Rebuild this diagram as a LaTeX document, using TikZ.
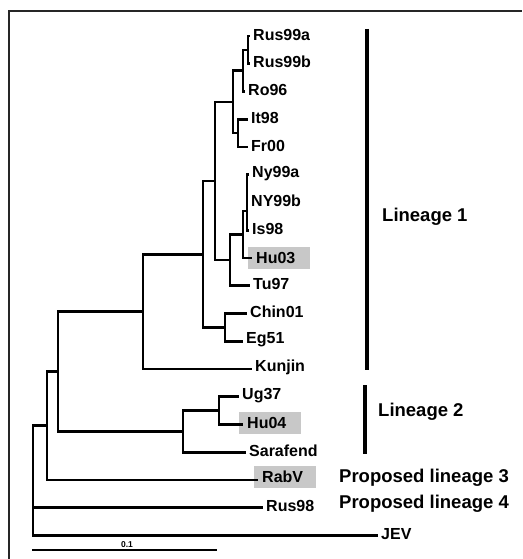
\documentclass[tikz,border=0pt]{standalone}
\usepackage{fontspec}
\setmainfont{Liberation Sans}
\begin{document}
\begin{tikzpicture}[x=1pt,y=-1pt,
  br/.style={line width=2.7pt,line join=miter},
  frame/.style={line width=2.2pt,black!85},
  lbar/.style={line width=4.5pt},
  leaf/.style={anchor=west,inner sep=0pt,xshift=3pt,yshift=1.5pt,font=\fontsize{16}{18}\selectfont\bfseries},
  boxed/.style={anchor=west,inner xsep=8pt,inner ysep=0pt,text width=46pt,minimum height=22pt,fill=boxgray,font=\fontsize{16}{18}\selectfont\bfseries},
  lin/.style={anchor=west,inner sep=0pt,font=\fontsize{18.5}{20}\selectfont\bfseries}]
\definecolor{boxgray}{RGB}{200,200,200}
\useasboundingbox (0,0) rectangle (522,559);
\draw[frame] (9,559) -- (9,11) -- (522,11);
% leaf tips
\coordinate (tRus99a) at (250,36);
\coordinate (tRus99b) at (250,63.75);
\coordinate (tRo96) at (245,91.5);
\coordinate (tIt98) at (248,119.25);
\coordinate (tFr00) at (248,147);
\coordinate (tNy99a) at (249,174.75);
\coordinate (tNY99b) at (248,202.5);
\coordinate (tIs98) at (249,230.25);
\coordinate (tHu03) at (252,258);
\coordinate (tTu97) at (250,285.75);
\coordinate (tChin01) at (247,313.5);
\coordinate (tEg51) at (243,341.25);
\coordinate (tKunjin) at (252,369);
\coordinate (tUg37) at (239,396.75);
\coordinate (tHu04) at (243,424.5);
\coordinate (tSarafend) at (246,452.25);
\coordinate (tRabV) at (258,480);
\coordinate (tRus98) at (263,507.75);
\coordinate (tJEV) at (378,535.5);
% boxed labels first
\node[boxed] (Hu03) at (248,258) {Hu03};
\node[boxed] (Hu04) at (239,423) {Hu04};
\node[boxed] (RabV) at (254,477) {RabV};
% labels
\node[leaf] (Rus99a) at (tRus99a) {Rus99a};
\node[leaf] (Rus99b) at (tRus99b) {Rus99b};
\node[leaf] (Ro96) at (tRo96) {Ro96};
\node[leaf] (It98) at (tIt98) {It98};
\node[leaf] (Fr00) at (tFr00) {Fr00};
\node[leaf] (Ny99a) at (tNy99a) {Ny99a};
\node[leaf] (NY99b) at (tNY99b) {NY99b};
\node[leaf] (Is98) at (tIs98) {Is98};
\node[leaf] (Tu97) at (tTu97) {Tu97};
\node[leaf] (Chin01) at (tChin01) {Chin01};
\node[leaf] (Eg51) at (tEg51) {Eg51};
\node[leaf] (Kunjin) at (tKunjin) {Kunjin};
\node[leaf] (Ug37) at (tUg37) {Ug37};
\node[leaf] (Sarafend) at (tSarafend) {Sarafend};
\node[leaf] (Rus98) at (tRus98) {Rus98};
\node[leaf] (JEV) at (tJEV) {JEV};
% internal nodes
\coordinate (a) at (248,49.9);
\coordinate (b) at (243,70.7);
\coordinate (c) at (238,133.1);
\coordinate (d) at (233,101.9);
\coordinate (e) at (247,211);
\coordinate (f) at (243,234.5);
\coordinate (g) at (230,260.1);
\coordinate (h) at (215,181);
\coordinate (i) at (225,327.4);
\coordinate (j) at (203,254.2);
\coordinate (k) at (143,311.6);
\coordinate (l) at (219,410.6);
\coordinate (m) at (183,431.4);
\coordinate (n) at (58,371.5);
\coordinate (o) at (47,425.75);
\coordinate (p) at (33,480);
% branches
\draw[br] (a) |- (tRus99a);
\draw[br] (a) |- (tRus99b);
\draw[br] (b) |- (a);
\draw[br] (b) |- (tRo96);
\draw[br] (c) |- (tIt98);
\draw[br] (c) |- (tFr00);
\draw[br] (d) |- (b);
\draw[br] (d) |- (c);
\draw[br] (e) |- (tNy99a);
\draw[br] (e) |- (tNY99b);
\draw[br] (e) |- (tIs98);
\draw[br] (f) |- (e);
\draw[br] (f) |- (tHu03);
\draw[br] (g) |- (f);
\draw[br] (g) |- (tTu97);
\draw[br] (h) |- (d);
\draw[br] (h) |- (g);
\draw[br] (i) |- (tChin01);
\draw[br] (i) |- (tEg51);
\draw[br] (j) |- (h);
\draw[br] (j) |- (i);
\draw[br] (k) |- (j);
\draw[br] (k) |- (tKunjin);
\draw[br] (l) |- (tUg37);
\draw[br] (l) |- (tHu04);
\draw[br] (m) |- (l);
\draw[br] (m) |- (tSarafend);
\draw[br] (n) |- (k);
\draw[br] (n) |- (m);
\draw[br] (o) |- (n);
\draw[br] (o) |- (tRabV);
\draw[br] (p) |- (o);
\draw[br] (p) |- (tRus98);
\draw[br] (p) |- (tJEV);
% lineage bars and labels
\draw[lbar] (367,29) -- (367,370);
\draw[lbar] (365,385) -- (365,454);
\node[lin] (L1) at (382,217) {Lineage 1};
\node[lin] (L2) at (378,412) {Lineage 2};
\node[lin] (L3) at (339,478) {Proposed lineage 3};
\node[lin] (L4) at (339,504) {Proposed lineage 4};
% scale bar
\draw[br] (32,550) -- (217,550);
\node[inner sep=0pt,font=\fontsize{8.5}{9}\selectfont\bfseries] (scale) at (127,545) {0.1};
\end{tikzpicture}
\end{document}
